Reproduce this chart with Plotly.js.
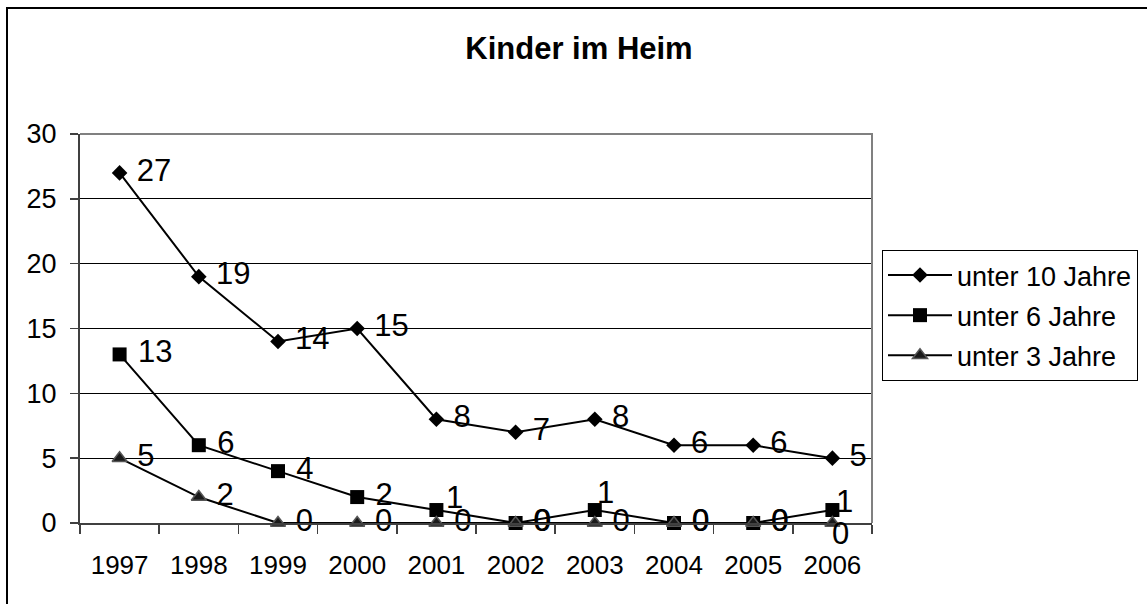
<!DOCTYPE html>
<html>
<head>
<meta charset="utf-8">
<script src="https://cdn.plot.ly/plotly-3.0.1.min.js"></script>
<style>
html,body{margin:0;padding:0;background:#fff;}
#chart{width:1147px;height:604px;}
</style>
</head>
<body>
<div id="chart"></div>
<script>
const years = ['1997','1998','1999','2000','2001','2002','2003','2004','2005','2006'];
const under10 = [27, 19, 14, 15, 8, 7, 8, 6, 6, 5];
const under6 = [13, 6, 4, 2, 1, 0, 1, 0, 0, 1];
const under3 = [5, 2, 0, 0, 0, 0, 0, 0, 0, 0];
const seriesNames = ['unter 10 Jahre', 'unter 6 Jahre', 'unter 3 Jahre'];
const chartTitle = 'Kinder im Heim';

const FONT = 'Arial, "Liberation Sans", sans-serif';
const L = 80, R = 872, T = 134, B = 523, W = 1147, H = 604;
const px = x => (x - L) / (R - L);
const py = y => (B - y) / (B - T);
const LABEL_SIZE = 31;

// label placement offsets (pixels) for labels that sit off the default "right of point" spot
// [seriesIndex, pointIndex, xshift, yshift]
const labelOffsets = [
  [1, 4, 8, 13],
  [1, 6, 0, 18],
  [1, 9, 2, 9],
  [2, 9, -2, -10]
];
const seriesData = [under10, under6, under3];
const isSpecial = (s, i) => labelOffsets.some(o => o[0] === s && o[1] === i);

const makeText = (s) => seriesData[s].map((v, i) => isSpecial(s, i) ? '' : ' ' + v);

const symbols = [
  {symbol: 'diamond', size: 12, color: '#000'},
  {symbol: 'square', size: 14, color: '#000'},
  {symbol: 'triangle-up', size: 13, color: '#1a1a1a', line: {color: '#555', width: 1.5}}
];

const traces = seriesData.map((vals, s) => ({
  x: years, y: vals, name: seriesNames[s], type: 'scatter', mode: 'lines+markers+text',
  legendgroup: 'g' + s,
  line: {color: '#000', width: 2}, marker: symbols[s],
  text: makeText(s), textposition: 'middle right',
  textfont: {family: FONT, size: LABEL_SIZE, color: '#000'}, cliponaxis: false
}));

const annotations = labelOffsets.map(([s, i, dx, dy]) => ({
  x: i, y: seriesData[s][i], xref: 'x', yref: 'y',
  text: String(seriesData[s][i]), showarrow: false,
  xanchor: 'left', yanchor: 'middle', xshift: dx, yshift: dy,
  font: {family: FONT, size: LABEL_SIZE, color: '#000'}
}));

const layout = {
  width: W, height: H,
  margin: {l: L, r: W - R, t: T, b: H - B, pad: 0, autoexpand: false},
  paper_bgcolor: '#fff', plot_bgcolor: '#fff',
  font: {family: FONT, color: '#000'},
  title: {text: '<b>' + chartTitle + '</b>', font: {family: FONT, size: 31, color: '#000'},
          x: 579 / W, xanchor: 'center', xref: 'container', y: 1 - 48 / H, yanchor: 'middle', yref: 'container'},
  showlegend: true,
  legend: {x: px(882), y: py(250), xanchor: 'left', yanchor: 'top',
           bordercolor: '#000', borderwidth: 1, bgcolor: '#fff',
           font: {family: FONT, size: 27, color: '#000'}, tracegroupgap: 2, itemwidth: 64},
  xaxis: {type: 'category', range: [-0.5, 9.5], showgrid: false, zeroline: false,
          showline: true, linecolor: '#404040', linewidth: 2,
          ticks: 'outside', tickson: 'boundaries', ticklen: 9, tickcolor: '#404040', tickwidth: 1.5,
          tickfont: {family: FONT, size: 26, color: '#000'}, ticklabelstandoff: 18, fixedrange: true},
  yaxis: {range: [0, 30], dtick: 5, showgrid: true, gridcolor: '#000', gridwidth: 1, zeroline: false,
          showline: true, linecolor: '#404040', linewidth: 2,
          ticks: 'outside', ticklen: 8, tickcolor: '#404040', tickwidth: 1.5,
          tickfont: {family: FONT, size: 27, color: '#000'}, ticklabelstandoff: 8, fixedrange: true},
  annotations: annotations,
  shapes: [
    {type: 'path', xref: 'paper', yref: 'paper', path: 'M0,1 L1,1 L1,0', line: {color: '#808080', width: 2}, layer: 'above'},
    {type: 'path', xref: 'paper', yref: 'paper',
     path: 'M' + px(7) + ',' + py(700) + ' L' + px(7) + ',' + py(8) + ' L' + px(1200) + ',' + py(8),
     line: {color: '#000', width: 2}, layer: 'above'}
  ]
};

Plotly.newPlot('chart', traces, layout, {displayModeBar: false, staticPlot: true});
</script>
</body>
</html>
